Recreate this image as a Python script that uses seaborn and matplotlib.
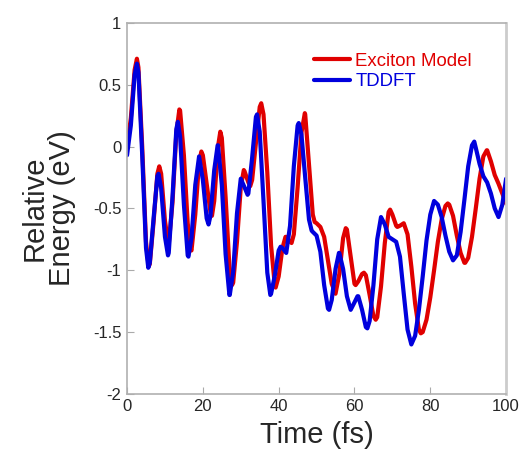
import pandas as pd
import matplotlib
matplotlib.use("Agg")
import matplotlib.pyplot as plt
import seaborn as sns

# Exciton model curve (time in fs, energy in eV)
t_exciton = [0, 1, 2, 2.6, 3, 4, 5, 5.7, 6, 7, 8, 8.5, 9, 10, 10.9, 11, 12, 13, 13.8,
             14, 15, 16, 16.9, 17, 18, 19, 19.6, 20, 21, 22, 22.4, 23, 24, 24.6,
             25, 26, 27, 27.7, 28, 29, 30, 30.8, 31, 32, 32.5, 33, 34, 35, 35.4,
             36, 37, 38, 39, 39.2, 40, 41, 41.8, 42, 43, 43.4, 44, 45, 46, 46.9,
             47, 48, 49, 49.5, 50, 51, 52, 53, 54, 55, 56, 57, 57.7, 58, 59, 60, 60.3,
             61, 62, 62.5, 63, 64, 65, 65.6, 66, 67, 68, 69, 69.4, 70, 71, 71.3,
             72, 73, 74, 75, 76, 77, 77.5, 78, 79, 80, 81, 82, 83, 84, 84.6,
             85, 86, 87, 88, 89, 89.2, 90, 91, 92, 93, 94, 94.9, 95, 96, 97, 98, 99, 100]
e_exciton = [0.0, 0.23, 0.62, 0.71, 0.64, 0.00, -0.77, -0.97, -0.95, -0.61, -0.22, -0.16,
             -0.22, -0.60, -0.79, -0.79, -0.45, 0.11, 0.30, 0.29, -0.07, -0.62, -0.84,
             -0.84, -0.55, -0.13, -0.04, -0.07, -0.30, -0.53, -0.56, -0.44, 0.00, 0.12,
             0.07, -0.41, -0.97, -1.12, -1.10, -0.77, -0.33, -0.19, -0.20, -0.29, -0.32,
             -0.27, 0.03, 0.32, 0.35, 0.26, -0.21, -0.80, -1.13, -1.14, -1.05, -0.82, -0.73,
             -0.73, -0.77, -0.78, -0.71, -0.33, 0.11, 0.27, 0.26, -0.14, -0.55, -0.61,
             -0.62, -0.65, -0.73, -0.92, -1.11, -1.19, -1.03, -0.74, -0.66, -0.67, -0.89,
             -1.11, -1.12, -1.09, -1.03, -1.02, -1.04, -1.20, -1.37, -1.40, -1.38, -1.13,
             -0.78, -0.53, -0.51, -0.55, -0.64, -0.65, -0.64, -0.62, -0.71, -0.97, -1.27,
             -1.48, -1.51, -1.50, -1.40, -1.22, -1.00, -0.77, -0.59, -0.48, -0.46, -0.47,
             -0.56, -0.72, -0.86, -0.94, -0.94, -0.90, -0.73, -0.50, -0.26, -0.08, -0.03,
             -0.03, -0.12, -0.23, -0.30, -0.38, -0.46]

# TDDFT curve
t_tddft = [0, 1, 2, 2.6, 3, 4, 5, 5.6, 6, 7, 8, 8.3, 9, 10, 10.8, 11, 12, 13, 13.4,
           14, 15, 16, 16.2, 17, 18, 19, 20, 21, 21.5, 22, 23, 23.9, 24, 25, 26, 27, 27.1,
           28, 29, 30, 31, 31.8, 32, 33, 34, 34.3, 35, 36, 37, 37.8, 38, 39, 40, 40.5,
           41, 42, 43, 44, 45, 45.3, 46, 47, 48, 48.7, 49, 50, 51, 52, 53, 53.3,
           54, 55, 55.9, 56, 57, 58, 59, 60, 60.8, 61, 62, 63, 63.4, 64, 65, 66, 67,
           68, 69, 70, 71, 72, 73, 74, 75, 76, 77, 78, 79, 80, 81, 82, 83, 84, 85, 86,
           87, 88, 89, 90, 91, 91.6, 92, 93, 94, 95, 96, 97, 98, 99, 100]
e_tddft = [-0.07, 0.17, 0.58, 0.67, 0.60, -0.07, -0.82, -0.98, -0.94, -0.58, -0.24, -0.22,
           -0.34, -0.73, -0.88, -0.86, -0.40, 0.14, 0.20, 0.08, -0.47, -0.88, -0.89,
           -0.74, -0.31, -0.08, -0.27, -0.58, -0.63, -0.56, -0.19, 0.01, 0.01, -0.31,
           -0.87, -1.20, -1.20, -1.01, -0.54, -0.26, -0.33, -0.39, -0.38, -0.09, 0.24,
           0.26, 0.12, -0.44, -1.02, -1.20, -1.19, -1.04, -0.84, -0.81, -0.82, -0.86,
           -0.64, -0.16, 0.17, 0.19, 0.10, -0.25, -0.59, -0.68, -0.69, -0.72, -0.85,
           -1.12, -1.31, -1.32, -1.24, -0.99, -0.86, -0.86, -0.99, -1.21, -1.32, -1.26,
           -1.21, -1.21, -1.32, -1.46, -1.47, -1.41, -1.12, -0.75, -0.57, -0.63, -0.73,
           -0.75, -0.77, -0.89, -1.19, -1.48, -1.60, -1.53, -1.32, -1.05, -0.76, -0.55,
           -0.44, -0.47, -0.57, -0.72, -0.85, -0.92, -0.88, -0.69, -0.43, -0.16, 0.01,
           0.04, -0.01, -0.14, -0.24, -0.29, -0.38, -0.50, -0.57, -0.47, -0.26]

labels = ["Exciton Model", "TDDFT"]
colors = {"Exciton Model": "#e00000", "TDDFT": "#0000dd"}

df = pd.concat([
    pd.DataFrame({"Time": t_exciton, "Energy": e_exciton, "Method": labels[0]}),
    pd.DataFrame({"Time": t_tddft, "Energy": e_tddft, "Method": labels[1]}),
])

sns.set_style("ticks")
plt.rcParams["font.family"] = ["Liberation Sans", "DejaVu Sans"]
plt.rcParams["axes.unicode_minus"] = False

fig = plt.figure(figsize=(5.25, 4.57), dpi=100)
ax = fig.add_axes([0.242, 0.138, 0.722, 0.812])

sns.lineplot(data=df, x="Time", y="Energy", hue="Method", palette=colors,
             linewidth=3, ax=ax, sort=False)

ax.set_xlim(0, 100)
ax.set_ylim(-2, 1)
ax.set_xticks([0, 20, 40, 60, 80, 100])
ax.set_yticks([-2, -1.5, -1, -0.5, 0, 0.5, 1])
ax.set_yticklabels(["-2", "-1.5", "-1", "-0.5", "0", "0.5", "1"])
ax.tick_params(direction="in", length=5, color="#aaaaaa", labelsize=12, pad=4)
for side in ["left", "bottom", "top", "right"]:
    ax.spines[side].set_color("#b0b0b0")
    ax.spines[side].set_linewidth(1.2)
ax.spines["right"].set_color("#cccccc")
ax.spines["right"].set_linewidth(2)

ax.set_xlabel("Time (fs)", fontsize=21, labelpad=5)
ax.set_ylabel("Relative\nEnergy (eV)", fontsize=21, labelpad=12, linespacing=1.0)

leg = ax.legend(loc="upper left", bbox_to_anchor=(0.45, 0.965), frameon=False,
                fontsize=13.4, handlelength=1.9, handletextpad=0.3,
                labelspacing=0.2, labelcolor="linecolor")

fig.savefig("out.png", dpi=100)
